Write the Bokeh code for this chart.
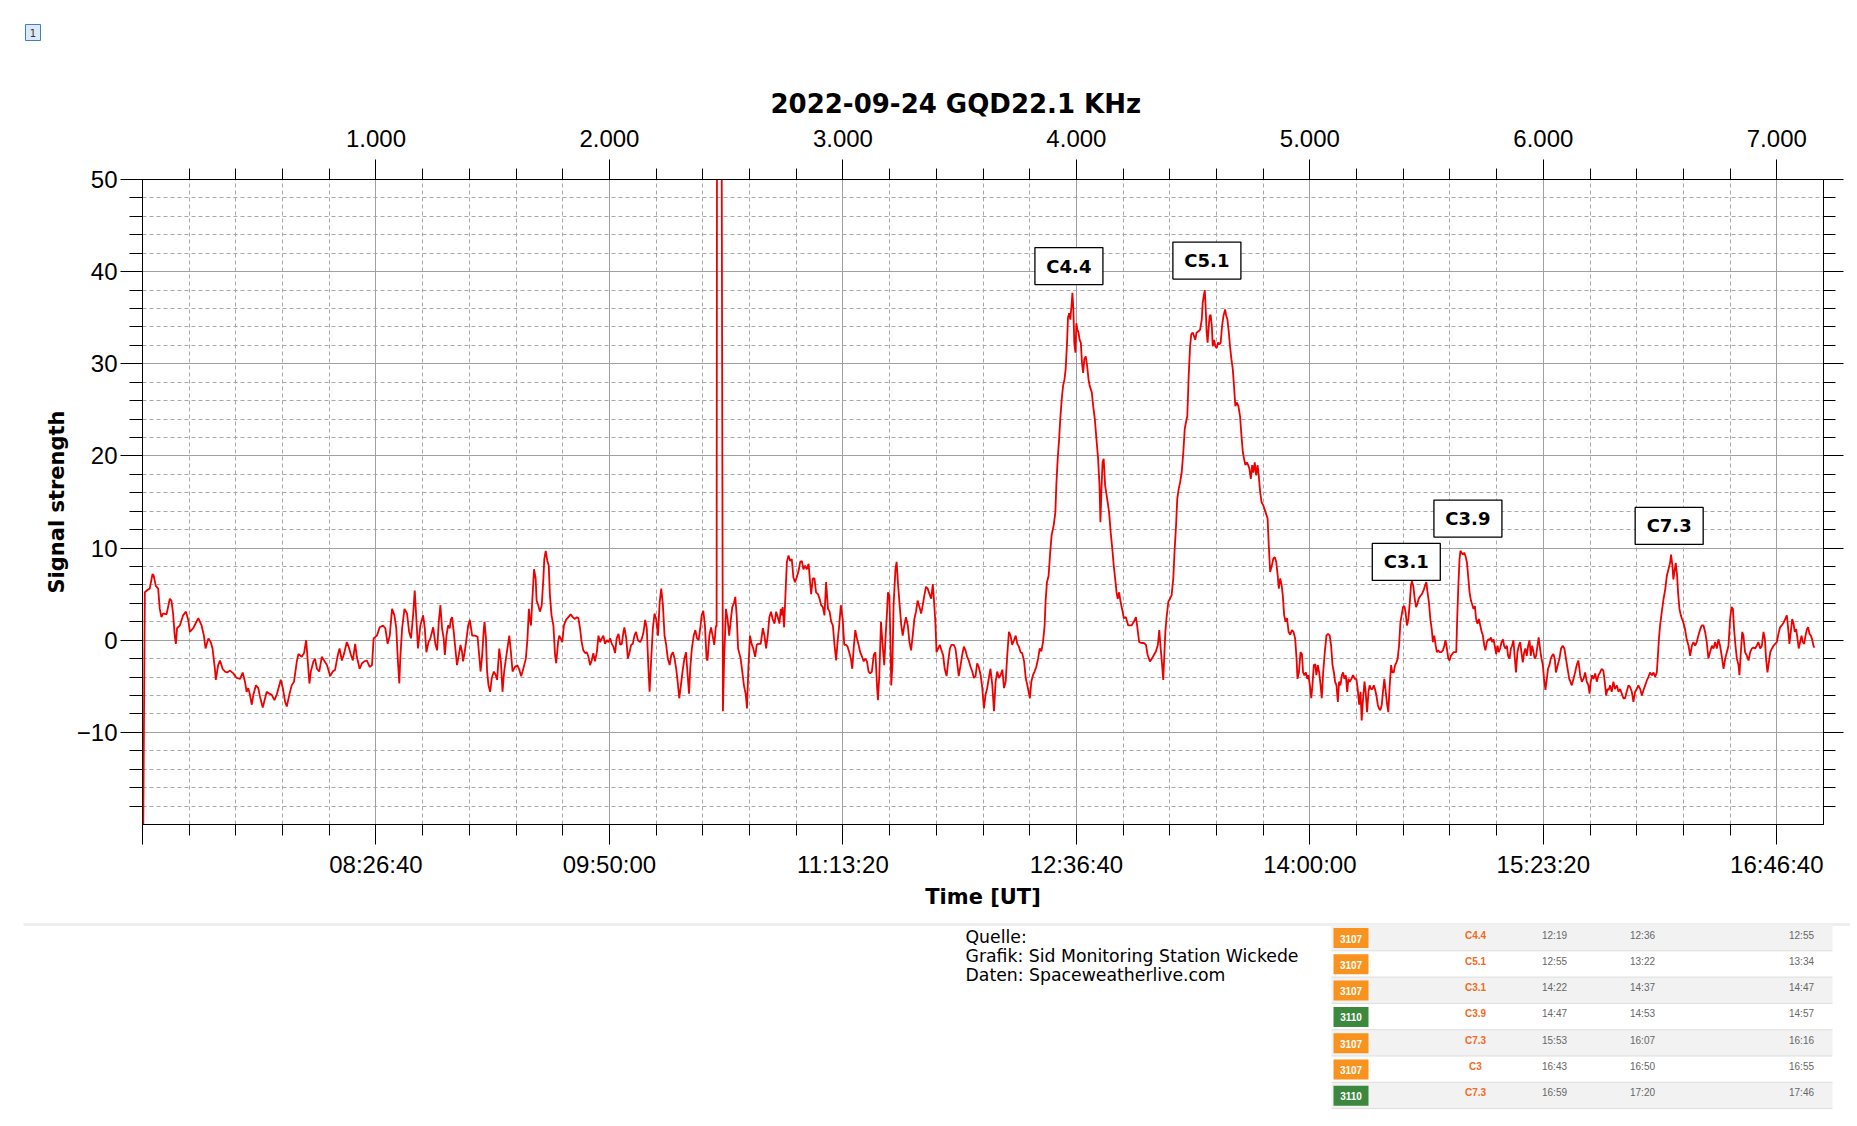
from bokeh.plotting import figure
from bokeh.models import Range1d, LinearAxis, FixedTicker, Grid
from bokeh.embed import file_html
from bokeh.resources import INLINE
from bokeh.core.properties import value

# ---------------- data (sample index, signal strength) ----------------
trace_a = [(2, -25), (10, 5.2), (24, 5.5), (31, 5.6), (43, 7.2), (48, 7.0), (57, 5.9), (67, 5.6), (74, 3.4), (81, 2.5),
           (88, 2.9), (103, 2.8), (117, 4.5), (124, 4.3), (131, 2.9), (138, 0.5), (143, -0.4), (148, 1.3), (160, 1.6),
           (174, 2.7), (186, 3.1), (196, 2.2), (203, 0.9), (217, 1.3), (239, 2.4), (253, 1.6), (263, 0.5), (270, -0.9),
           (282, 0.2), (292, -0.2), (300, -0.9), (310, -3.1), (314, -4.3), (324, -2.7), (332, -2.2), (343, -3.1),
           (353, -3.4), (363, -3.5), (375, -3.3), (389, -3.6), (403, -4.1), (418, -4.2), (429, -3.5), (439, -4.5),
           (446, -5.6), (453, -5.2), (460, -5.9), (468, -7.0), (475, -5.9), (486, -4.9), (496, -5.2), (503, -6.1),
           (515, -7.3), (525, -6.3), (532, -5.6), (543, -5.8), (553, -5.9), (565, -6.5), (575, -5.9), (586, -4.9),
           (592, -4.3), (601, -5.2), (611, -6.7), (618, -7.2), (629, -5.9), (639, -4.9), (649, -4.5), (661, -2.3),
           (668, -1.5), (682, -1.8), (692, -1.4), (701, 0.0), (708, -2.3), (715, -4.7), (721, -3.4), (732, -2.3),
           (739, -2.0), (747, -3.1), (757, -3.4), (768, -1.8), (778, -2.2), (790, -2.7), (804, -3.9), (815, -3.4),
           (825, -3.2), (835, -1.8), (844, -0.9), (854, -2.2), (864, -1.4), (875, -0.2), (883, -0.7), (893, -1.6),
           (901, -2.2), (911, -0.4), (918, -1.8), (930, -3.1), (940, -2.5), (950, -2.3), (961, -2.2), (973, -2.9),
           (983, -2.7), (990, 0.2), (1004, 0.5), (1016, 1.4), (1030, 1.6), (1040, 1.3), (1050, -0.4), (1059, 0.5),
           (1069, 3.4), (1079, 2.7), (1087, 1.3), (1094, -2.3), (1100, -4.7), (1104, -2.0), (1112, 1.3), (1122, 3.4),
           (1133, 2.9), (1142, 0.9), (1150, 0.2), (1159, 2.7), (1166, 5.4), (1173, 2.3), (1180, -0.9), (1190, 1.6),
           (1202, 2.7), (1209, 1.3), (1216, -1.3), (1225, -0.2), (1233, 0.2), (1245, 1.4), (1255, -0.5), (1262, -1.1),
           (1269, 2.0), (1276, 3.8)]

trace_b = [(1283, 1.3), (1290, 0.2), (1295, -1.6), (1302, 0.5), (1309, 1.6), (1316, 1.3), (1320, 2.2), (1326, 2.5),
           (1333, 0.9), (1340, -0.9), (1347, -2.7), (1355, -1.6), (1362, -0.5), (1369, -1.3), (1373, -2.3), (1380, -1.3),
           (1388, 0.2), (1395, 1.6), (1402, 2.2), (1412, 0.5), (1423, 0.5), (1435, 0.4), (1442, -1.6), (1448, -3.4),
           (1455, -1.6), (1462, 1.3), (1465, 2.0), (1471, 0.2), (1476, -3.4), (1482, -4.9), (1489, -5.6), (1496, -4.1),
           (1505, -3.4), (1513, -3.8), (1519, -4.3), (1528, -0.9), (1535, -2.3), (1542, -5.6), (1549, -3.4), (1559, -1.6),
           (1571, 0.5), (1578, -1.3), (1585, -3.4), (1595, -2.9), (1605, -2.7), (1614, -3.2), (1622, -3.9), (1631, -3.1),
           (1642, -2.0), (1649, 0.2), (1655, 3.4), (1659, 2.3), (1664, 1.6), (1669, 4.1), (1677, 7.7), (1684, 6.7),
           (1688, 4.3), (1695, 3.8), (1702, 3.1), (1710, 3.8), (1717, 6.7), (1721, 8.8), (1727, 9.7), (1734, 8.6),
           (1740, 8.1), (1745, 4.9), (1752, 2.7), (1760, 1.6), (1767, -1.6), (1772, -2.5), (1780, -0.2), (1785, 0.5),
           (1791, 0.2), (1798, -0.2), (1805, 1.6), (1814, 2.2), (1824, 2.5), (1834, 2.8), (1843, 2.5), (1853, 2.3),
           (1860, 2.5), (1867, 2.4), (1874, 1.3), (1881, -0.2), (1888, -1.1), (1896, -1.4), (1903, -1.3), (1910, -1.8),
           (1917, -2.7), (1924, -2.2), (1931, -1.4), (1938, -2.3), (1946, -1.3), (1953, 0.5), (1960, -0.2), (1967, 0.2),
           (1974, 0.5), (1981, -0.4), (1989, 0.0), (1996, -0.2), (2003, 0.2), (2010, -0.4), (2017, -0.7), (2024, -1.4),
           (2031, 0.2), (2039, 0.7), (2046, -0.5), (2053, -0.4), (2060, 0.9), (2064, 1.4), (2072, 0.2), (2079, -2.0),
           (2086, -1.3), (2093, -0.5), (2100, -0.4), (2107, 0.5), (2114, 0.9), (2122, 0.0), (2132, -0.2), (2139, 0.2),
           (2146, 0.9), (2153, 2.2), (2160, 1.3), (2167, -3.1), (2172, -5.6), (2179, -2.0), (2186, 1.3), (2193, 2.9),
           (2200, 2.3), (2208, 0.5), (2215, 4.1), (2222, 5.6), (2229, 3.8), (2236, 0.5), (2243, -0.5), (2250, -2.0),
           (2258, -2.7), (2265, -1.6), (2272, -1.3), (2279, -2.0), (2286, -3.1), (2293, -4.7), (2299, -6.3), (2306, -4.9),
           (2313, -3.4), (2321, -2.0), (2328, -1.3), (2335, -3.8), (2341, -5.8), (2346, -3.1), (2353, -0.9), (2361, 0.5),
           (2368, 1.1), (2375, 0.2), (2382, 0.0), (2389, 1.3)]

trace_c = [(2395, 2.7), (2402, 3.2), (2409, 1.6), (2416, -2.0), (2420, -2.2), (2428, 0.5), (2435, 1.4), (2442, 0.5),
           (2449, -0.5), (2456, 1.6), (2459, 1.5), (2462, 95), (2477, 95), (2486, -7.7), (2491, -2.3), (2495, 0.5),
           (2499, 3.4), (2506, 2.3), (2513, 0.5), (2519, 2.0), (2526, 3.6), (2533, 4.0), (2539, 4.7), (2545, 2.7),
           (2551, -0.9), (2556, -1.4), (2562, -2.0), (2569, -3.4), (2576, -4.9), (2584, -5.9), (2589, -7.4), (2595, -3.1),
           (2602, 0.5), (2609, -0.4), (2616, -0.9), (2624, -1.8), (2631, -0.5), (2638, -0.4), (2648, -0.4), (2657, 1.3),
           (2664, 0.5), (2671, -0.9), (2678, 0.5), (2685, 2.5), (2692, 3.1), (2699, 2.3), (2707, 1.8), (2714, 3.1),
           (2721, 2.5), (2728, 1.8), (2734, 3.4), (2738, 2.7), (2742, 3.6), (2748, 1.4), (2754, 5.0), (2760, 8.5),
           (2767, 9.2), (2774, 8.6), (2781, 8.8), (2788, 6.8), (2795, 6.3), (2802, 6.8), (2810, 7.5), (2817, 8.5),
           (2824, 8.6), (2831, 7.7), (2838, 8.1), (2845, 7.7), (2853, 8.3), (2860, 6.1), (2864, 5.0), (2871, 6.7),
           (2878, 6.7), (2885, 5.2), (2893, 5.0), (2900, 4.5), (2907, 3.8), (2914, 3.6), (2921, 2.7), (2928, 6.3),
           (2936, 3.4), (2943, 3.1), (2950, 2.0), (2957, 1.6), (2964, -0.5), (2971, -2.2), (2977, -0.2), (2984, 1.6),
           (2991, 3.8), (2999, 2.3), (3006, -0.5), (3013, -0.5), (3020, -0.7), (3027, -1.3), (3034, -2.0), (3040, -3.1),
           (3046, -0.9), (3053, 1.1), (3060, 0.2), (3067, -0.5), (3074, -1.3), (3082, -1.8), (3089, -2.3), (3096, -2.0),
           (3103, -2.3), (3110, -3.4), (3117, -3.6), (3124, -3.4), (3132, -1.6), (3139, -1.3), (3146, -4.9), (3150, -6.5),
           (3156, -3.8), (3163, 2.0), (3170, -0.5), (3177, -2.7), (3183, 0.5), (3189, 3.1), (3193, 5.2), (3199, 4.9),
           (3203, 0.5), (3207, -4.9), (3212, -2.7), (3217, 3.8), (3225, 7.7), (3230, 8.5), (3236, 6.1), (3243, 3.8),
           (3250, 1.6), (3256, 0.5), (3263, 1.6), (3270, 2.5), (3278, 1.6), (3285, -0.2), (3292, -1.1), (3299, 0.5),
           (3306, 2.3), (3313, 3.1), (3320, 4.3), (3328, 3.6), (3335, 2.9), (3342, 3.8), (3349, 4.9), (3356, 5.8),
           (3363, 5.6), (3371, 5.0), (3378, 4.5), (3385, 6.1), (3389, 4.7), (3396, 2.0), (3401, -1.3), (3408, -0.9),
           (3415, -0.5), (3422, -1.1), (3429, -1.6), (3436, -3.1), (3444, -3.9), (3451, -2.3), (3458, -0.9), (3465, -0.5),
           (3475, -0.5), (3482, -0.9), (3489, -2.3), (3496, -3.9), (3504, -2.7), (3511, -1.6), (3518, -0.7), (3525, -1.1),
           (3532, -1.8), (3539, -2.2), (3547, -2.9), (3554, -3.4), (3561, -4.1), (3568, -3.9), (3575, -2.5), (3582, -2.9),
           (3590, -3.8), (3597, -5.2), (3604, -7.4), (3611, -5.9), (3618, -5.2), (3625, -4.1), (3632, -3.1), (3640, -4.9),
           (3647, -7.7), (3654, -4.5), (3661, -3.4), (3668, -4.1), (3675, -3.8), (3683, -3.2), (3690, -5.2), (3697, -4.5),
           (3704, -1.6), (3711, 0.9), (3718, 0.5), (3725, -0.5), (3733, 0.0), (3740, 0.5), (3747, -0.4), (3754, -0.7),
           (3761, -1.3), (3768, -1.4), (3776, -2.3), (3783, -4.1), (3790, -4.9), (3797, -5.8), (3801, -6.3)]

trace_d = [(3807, -4.5), (3814, -3.8), (3821, -3.4), (3828, -2.9), (3836, -2.0), (3843, -0.9), (3850, -1.2), (3857, -0.2),
           (3864, 1.6), (3868, 4.2), (3874, 6.3), (3881, 7.0), (3888, 9.6), (3894, 11.4), (3903, 12.5), (3910, 13.9),
           (3914, 16.8), (3920, 19.7), (3926, 21.8), (3931, 24.0), (3937, 26.1), (3943, 27.6), (3949, 28.3), (3954, 29.4),
           (3960, 32.3), (3964, 35.0), (3969, 35.5), (3974, 34.8), (3980, 36.6), (3983, 37.7), (3987, 35.9), (3991, 32.3),
           (3996, 31.2), (4000, 34.4), (4004, 33.7), (4009, 33.4), (4014, 32.6), (4019, 32.3), (4024, 30.1), (4029, 29.0),
           (4034, 30.5), (4040, 30.8), (4046, 29.8), (4052, 28.3), (4057, 27.6), (4066, 26.9), (4072, 25.4), (4079, 24.0),
           (4086, 21.8), (4093, 19.7), (4099, 16.8), (4103, 12.8), (4107, 16.1), (4112, 19.3), (4117, 19.7), (4123, 16.8),
           (4132, 15.3), (4140, 13.9), (4147, 11.7), (4155, 9.6), (4160, 8.1), (4166, 6.7), (4172, 5.2), (4177, 4.5),
           (4183, 5.2), (4189, 4.2), (4198, 3.1), (4203, 2.4), (4212, 2.5), (4222, 1.6), (4236, 1.6), (4246, 2.0),
           (4255, 2.5), (4260, 1.6), (4269, -0.2), (4279, -0.3), (4289, -0.3), (4298, -0.5), (4305, -1.6), (4315, -2.3),
           (4323, -2.0), (4332, -1.6), (4341, -1.2), (4349, -0.5), (4355, 1.1), (4361, -0.9), (4366, -2.3), (4372, -4.3),
           (4376, -2.0), (4381, 0.9), (4386, 2.4), (4394, 4.2), (4401, 4.5), (4408, 4.9), (4415, 6.7), (4421, 9.9),
           (4427, 12.5), (4432, 15.3), (4438, 16.4), (4444, 17.1), (4451, 18.2), (4458, 20.4), (4464, 22.9), (4469, 23.6),
           (4475, 24.3), (4481, 28.7), (4487, 31.9), (4492, 33.2), (4498, 33.4), (4504, 33.0), (4509, 32.6), (4515, 33.4),
           (4522, 33.5), (4530, 33.7), (4537, 34.8), (4541, 36.6), (4545, 37.3), (4550, 38.0), (4554, 35.9), (4558, 33.4),
           (4562, 32.3), (4567, 34.1), (4571, 35.2), (4575, 35.3), (4580, 34.1), (4584, 31.9), (4590, 32.6), (4595, 31.9),
           (4601, 31.7), (4607, 32.3), (4612, 32.1), (4618, 32.3), (4624, 34.1), (4630, 35.2), (4637, 35.9), (4641, 35.3),
           (4647, 34.8), (4653, 33.4), (4658, 31.9), (4664, 30.5), (4670, 29.4), (4675, 27.6), (4681, 25.4), (4687, 25.8),
           (4694, 25.4), (4701, 24.3), (4707, 22.2), (4713, 20.4), (4718, 19.7), (4724, 19.0), (4730, 19.3), (4736, 19.0),
           (4741, 18.6), (4747, 17.5), (4753, 19.0), (4758, 18.2), (4764, 19.3), (4770, 17.9), (4776, 19.0), (4781, 17.9),
           (4787, 16.1), (4793, 15.0), (4801, 14.6), (4810, 13.9), (4819, 13.2), (4824, 10.3), (4830, 7.4), (4837, 8.1),
           (4844, 8.9), (4850, 9.0), (4856, 8.5), (4862, 7.1), (4867, 5.6), (4873, 6.7), (4879, 6.0), (4884, 4.9),
           (4890, 2.7), (4896, 2.0), (4902, 2.4), (4909, 0.9), (4916, 0.6), (4923, 1.1), (4930, 0.9), (4937, 0.2)]

trace_e = [(4943, -2.0), (4947, -4.2), (4953, -3.5), (4960, -1.3), (4966, -1.5), (4971, -3.5), (4977, -3.8), (4983, -3.5),
           (4989, -4.2), (4994, -3.8), (5000, -4.9), (5006, -6.3), (5011, -4.9), (5017, -2.7), (5023, -2.6), (5028, -3.8),
           (5034, -2.7), (5040, -3.5), (5046, -4.9), (5051, -6.3), (5057, -3.5), (5064, -1.3), (5071, 0.5), (5078, 0.7),
           (5085, 0.5), (5091, -0.6), (5097, -2.7), (5103, -3.5), (5108, -4.5), (5114, -4.9), (5120, -6.7), (5125, -4.5),
           (5131, -4.9), (5137, -3.8), (5142, -3.5), (5148, -4.2), (5154, -3.8), (5160, -5.6), (5165, -4.2), (5171, -4.5),
           (5178, -4.2), (5185, -3.8), (5192, -4.2), (5199, -4.2), (5205, -5.3), (5211, -7.0), (5217, -5.6), (5222, -8.7),
           (5228, -6.3), (5234, -4.5), (5239, -5.6), (5245, -7.8), (5251, -5.6), (5256, -4.9), (5262, -5.3), (5268, -5.3),
           (5274, -4.9), (5279, -5.3), (5285, -6.0), (5291, -7.0), (5296, -7.4), (5302, -7.6), (5308, -7.0), (5313, -5.6),
           (5319, -4.2), (5325, -5.6), (5331, -7.0), (5336, -7.8), (5342, -4.9), (5348, -2.7), (5353, -3.5), (5359, -3.5),
           (5365, -2.7), (5371, -2.4), (5376, -2.0), (5382, -0.6), (5388, 2.0), (5393, 2.7), (5399, 3.6), (5405, 3.7),
           (5410, 3.0), (5416, 1.6), (5422, 2.3), (5428, 4.1), (5433, 5.9), (5437, 6.4), (5443, 5.9), (5449, 4.5),
           (5455, 3.6), (5460, 3.9), (5466, 4.5), (5473, 4.8), (5480, 5.0), (5487, 5.4), (5493, 5.9), (5499, 6.3),
           (5504, 5.2), (5510, 4.1), (5516, 2.3), (5522, 1.2), (5527, -0.2), (5533, 0.5), (5539, -0.6), (5544, -1.3),
           (5550, -1.1), (5556, -1.3), (5563, -1.3), (5570, -1.1), (5576, -0.6), (5581, 0.0), (5587, -0.9), (5593, -2.0),
           (5598, -2.2), (5604, -1.7), (5610, -1.5), (5616, -1.3), (5621, -1.3), (5627, -1.3), (5631, 2.3), (5636, 5.9),
           (5641, 8.8), (5645, 9.7), (5650, 9.5), (5655, 9.3), (5661, 9.5), (5667, 9.1), (5673, 8.4), (5678, 7.0),
           (5684, 5.2), (5690, 4.3), (5695, 3.9), (5701, 3.4), (5707, 3.7), (5712, 2.3), (5718, 1.8), (5724, 2.3),
           (5730, 1.6), (5735, 1.0), (5741, 0.5), (5747, -0.6), (5752, -1.1), (5758, -0.2), (5764, 0.1), (5770, 0.0),
           (5775, 0.3), (5781, -0.2), (5787, 0.1), (5792, -0.6), (5798, -1.5), (5804, -0.6), (5809, -1.3), (5815, -0.9),
           (5821, -0.2), (5827, 0.1), (5832, -0.6), (5838, -0.9), (5844, -0.6), (5849, -1.7), (5855, -2.0), (5861, -0.9),
           (5866, -0.6), (5872, 0.0), (5878, -2.0), (5883, -3.5), (5889, -1.3), (5895, -0.6), (5901, -0.2), (5906, -1.3),
           (5912, -2.4), (5918, -1.3), (5923, -0.9), (5929, -1.7), (5935, -0.6), (5941, 0.0), (5946, -1.7), (5952, -0.6),
           (5958, -1.3), (5963, -2.0), (5969, -1.7), (5975, -0.6), (5980, 0.3), (5986, -0.9), (5992, -2.0), (5998, -2.7),
           (6003, -4.2), (6009, -5.4), (6015, -4.2), (6020, -3.1), (6026, -2.7), (6032, -2.0), (6037, -1.7), (6043, -1.5),
           (6049, -2.0), (6054, -3.5), (6062, -2.7), (6069, -2.0), (6076, -0.9), (6083, -0.6), (6090, -0.9), (6097, -2.0),
           (6104, -3.1), (6111, -4.2)]

trace_f = [(6122, -4.9), (6129, -4.2), (6136, -3.5), (6143, -2.7), (6150, -2.2), (6158, -3.8), (6165, -4.5), (6172, -4.2),
           (6179, -3.5), (6186, -4.5), (6193, -4.9), (6198, -5.8), (6203, -4.5), (6209, -3.8), (6215, -4.2), (6222, -3.6),
           (6229, -4.5), (6236, -3.8), (6243, -3.5), (6250, -3.1), (6257, -3.3), (6263, -4.5), (6269, -6.0), (6275, -5.3),
           (6280, -5.4), (6286, -4.9), (6293, -5.6), (6300, -4.5), (6307, -5.3), (6315, -4.9), (6322, -5.6), (6329, -5.3),
           (6336, -5.8), (6343, -6.3), (6350, -6.3), (6357, -5.6), (6365, -4.9), (6372, -5.1), (6379, -5.6), (6386, -6.7),
           (6393, -5.6), (6400, -5.3), (6407, -4.9), (6415, -5.3), (6422, -6.0), (6429, -5.4), (6436, -4.9), (6443, -4.4),
           (6450, -4.0), (6457, -3.5), (6465, -3.8), (6472, -3.5), (6479, -4.0), (6486, -3.5), (6490, -2.0), (6495, 0.1),
           (6500, 1.6), (6507, 3.0), (6515, 4.5), (6522, 5.5), (6529, 7.0), (6536, 7.7), (6543, 8.4), (6547, 9.3),
           (6553, 8.1), (6557, 6.6), (6563, 7.7), (6567, 8.4), (6573, 7.0), (6577, 5.2), (6583, 3.4), (6589, 2.7),
           (6594, 2.3), (6600, 1.9), (6607, 1.2), (6614, 0.1), (6622, -0.6), (6629, -1.7), (6636, -0.6), (6643, -0.2),
           (6650, -0.6), (6657, -0.2), (6664, 0.5), (6672, 1.2), (6679, 1.6), (6686, 1.6), (6693, 0.9), (6700, -0.2),
           (6707, -2.0), (6714, -1.3), (6722, -0.6), (6729, -0.9), (6736, -0.2), (6743, -0.9), (6750, 0.1), (6757, -0.6),
           (6764, -1.7), (6772, -3.1), (6779, -2.0), (6786, -1.3), (6793, -0.6), (6800, 2.3), (6806, 3.6), (6812, 3.4),
           (6817, 1.2), (6823, -0.6), (6829, -2.0), (6836, -2.7), (6840, -3.8), (6846, -1.3), (6852, 0.9), (6857, 0.5),
           (6864, -1.3), (6872, -1.7), (6879, -2.2), (6886, -1.3), (6893, -0.9), (6900, -0.8), (6907, -0.9), (6914, -0.6),
           (6921, -0.2), (6929, -0.9), (6936, -0.6), (6943, 0.9), (6949, 0.1), (6954, -2.0), (6960, -3.5), (6966, -2.4),
           (6972, -1.3), (6979, -0.9), (6986, -0.6), (6993, -0.4), (7000, -0.2), (7007, 0.7), (7014, 1.4), (7021, 1.6),
           (7029, 1.9), (7036, 2.3), (7043, 2.7), (7049, 1.2), (7054, -0.4), (7060, 0.9), (7066, 2.3), (7071, 1.9),
           (7077, 0.9), (7083, 1.2), (7089, 0.1), (7094, -0.9), (7100, -0.2), (7106, 0.5), (7111, -0.2), (7117, -0.4),
           (7123, 0.5), (7129, 1.2), (7134, 1.4), (7140, 0.7), (7146, 0.5), (7151, 0.1), (7157, -0.6), (7161, -0.8)]

title_text = "2022-09-24 GQD22.1 KHz"
x_label = "Time [UT]"
y_label = "Signal strength"
sample_ticks = [1000, 2000, 3000, 4000, 5000, 6000, 7000]
sample_tick_labels = ["1.000", "2.000", "3.000", "4.000", "5.000", "6.000", "7.000"]
time_tick_labels = ["08:26:40", "09:50:00", "11:13:20", "12:36:40", "14:00:00", "15:23:20", "16:46:40"]
y_ticks = [-10, 0, 10, 20, 30, 40, 50]
y_tick_labels = ["\u221210", "0", "10", "20", "30", "40", "50"]

flare_names = ["C4.4", "C5.1", "C3.1", "C3.9", "C7.3"]
flare_x = [3968, 4559, 5413, 5677, 6539]
flare_y = [40.6, 41.2, 8.5, 13.2, 12.4]

tbl_region = ["3107", "3107", "3107", "3110", "3107", "3107", "3110"]
tbl_class = ["C4.4", "C5.1", "C3.1", "C3.9", "C7.3", "C3", "C7.3"]
tbl_start = ["12:19", "12:55", "14:22", "14:47", "15:53", "16:43", "16:59"]
tbl_peak = ["12:36", "13:22", "14:37", "14:53", "16:07", "16:50", "17:20"]
tbl_end = ["12:55", "13:34", "14:47", "14:57", "16:16", "16:55", "17:46"]

source_lines = ["Quelle:", "Grafik: Sid Monitoring Station Wickede", "Daten: Spaceweatherlive.com"]
page_number = "1"

# ---------------- layout constants ----------------
W = 1850
TOP_H = 60
CHART_H = 861
BOT_H = 195
TICK_FONT = "Liberation Sans"
BOLD_FONT = "DejaVu Sans"

segments = [trace_a, trace_b, trace_c, trace_d, trace_e, trace_f]
samples = [pt[0] for seg in segments for pt in seg]
signal = [pt[1] for seg in segments for pt in seg]

# ---------------- top strip (page marker) ----------------
top = figure(width=W, height=TOP_H, x_range=Range1d(0, W), y_range=Range1d(TOP_H, 0),
             x_axis_type=None, y_axis_type=None, toolbar_location=None,
             output_backend="svg", min_border=0)
top.outline_line_color = None
top.rect(x=[32.5], y=[32], width=[15], height=[16], fill_color="#dce9f8",
         line_color="#3f7fc4", line_width=1)
top.text(x=[32.5], y=[32.5], text=[page_number], text_align="center", text_baseline="middle",
         text_font=value("DejaVu Sans"), text_font_size="10px", text_color="#333333")

# ---------------- chart ----------------
p = figure(width=W, height=CHART_H, x_range=Range1d(0, 7200), y_range=Range1d(-20, 50),
           x_axis_type=None, y_axis_type=None, toolbar_location=None, output_backend="svg",
           min_border_left=142, min_border_right=W - 1823, min_border_top=119, min_border_bottom=97)
p.outline_line_color = "black"
p.outline_line_width = 1
p.background_fill_color = "white"
p.border_fill_color = "white"

p.title.text = title_text
p.title.align = "left"
p.title.offset = 628
p.title.text_font = BOLD_FONT
p.title.text_font_style = "bold"
p.title.text_font_size = "26px"
p.title.text_color = "black"
p.title.standoff = 15

minor_x = [t for t in range(200, 7200, 200) if t % 1000]
minor_y = [t for t in range(-18, 50, 2) if t % 10]

p.add_layout(Grid(dimension=0, ticker=FixedTicker(ticks=sample_ticks, minor_ticks=minor_x),
                  grid_line_color="#a0a0a0", grid_line_width=1,
                  minor_grid_line_color="#a8a8a8", minor_grid_line_dash="4 3", minor_grid_line_width=1))
p.add_layout(Grid(dimension=1, ticker=FixedTicker(ticks=y_ticks, minor_ticks=minor_y),
                  grid_line_color="#a0a0a0", grid_line_width=1,
                  minor_grid_line_color="#a8a8a8", minor_grid_line_dash="4 3", minor_grid_line_width=1))


def make_axis(ticks, minor, labels, major_out, minor_out, standoff, label=None, label_standoff=8):
    ax = LinearAxis(ticker=FixedTicker(ticks=ticks, minor_ticks=minor),
                    major_label_overrides={t: l for t, l in zip(ticks, labels)})
    ax.major_tick_in = 0
    ax.minor_tick_in = 0
    ax.major_tick_out = major_out
    ax.minor_tick_out = minor_out
    ax.axis_line_color = "black"
    ax.major_tick_line_color = "black"
    ax.minor_tick_line_color = "black"
    ax.major_label_text_font = TICK_FONT
    ax.major_label_text_font_size = "24px"
    ax.major_label_text_color = "black"
    ax.major_label_standoff = standoff
    if label:
        ax.axis_label = label
        ax.axis_label_text_font = BOLD_FONT
        ax.axis_label_text_font_style = "bold"
        ax.axis_label_text_font_size = "21px"
        ax.axis_label_text_color = "black"
        ax.axis_label_standoff = label_standoff
    return ax


top_axis = make_axis(sample_ticks, minor_x, sample_tick_labels, 20, 11, 13)
bottom_axis = make_axis([0] + sample_ticks, minor_x, [""] + time_tick_labels, 20, 11, 6,
                        label=x_label, label_standoff=4)
left_axis = make_axis(y_ticks, minor_y, y_tick_labels, 22, 13, 3, label=y_label, label_standoff=5)
right_axis = make_axis(y_ticks, minor_y, ["" for _ in y_ticks], 20, 12, 0)

p.add_layout(top_axis, "above")
p.add_layout(bottom_axis, "below")
p.add_layout(left_axis, "left")
p.add_layout(right_axis, "right")

p.line(x=samples, y=signal, line_color="#ee0000", line_width=1.8)

p.rect(x=flare_x, y=flare_y, width=68, height=37, width_units="screen", height_units="screen",
       fill_color="white", line_color="black", line_width=1.3)
p.text(x=flare_x, y=flare_y, text=flare_names, text_align="center", text_baseline="middle",
       text_font=value(BOLD_FONT), text_font_style="bold", text_font_size="18px", text_color="black")

# ---------------- bottom strip (source + flare table) ----------------
bot = figure(width=W, height=BOT_H, x_range=Range1d(0, W), y_range=Range1d(BOT_H, 0),
             x_axis_type=None, y_axis_type=None, toolbar_location=None,
             output_backend="svg", min_border=0)
bot.outline_line_color = None

ROW_TOP = 3
ROW_H = 26.3
TBL_L, TBL_R = 1331, 1832
n = len(tbl_region)
row_tops = [ROW_TOP + i * ROW_H for i in range(n)]

bot.quad(left=[23], right=[W], top=[1.5], bottom=[4.5], fill_color="#eeeeee", line_color=None)
gray_rows = [t for i, t in enumerate(row_tops) if i % 2 == 0]
bot.quad(left=[TBL_L] * len(gray_rows), right=[TBL_R] * len(gray_rows), top=gray_rows,
         bottom=[t + ROW_H for t in gray_rows], fill_color="#f2f2f2", line_color=None)
bot.segment(x0=[TBL_L] * n, x1=[TBL_R] * n, y0=[t + ROW_H for t in row_tops],
            y1=[t + ROW_H for t in row_tops], line_color="#dddddd", line_width=1)

badge_colors = ["#f7931e" if r == "3107" else "#3d883f" for r in tbl_region]
bot.rect(x=[1350.5] * n, y=[t + 13.5 for t in row_tops], width=35, height=20,
         fill_color=badge_colors, line_color=None)
bot.text(x=[1350.5] * n, y=[t + 14 for t in row_tops], text=tbl_region, text_align="center",
         text_baseline="middle", text_font=value(TICK_FONT), text_font_style="bold",
         text_font_size="10px", text_color="white")
bot.text(x=[1475] * n, y=[t + 10.5 for t in row_tops], text=tbl_class, text_align="center",
         text_baseline="middle", text_font=value(TICK_FONT), text_font_style="bold",
         text_font_size="10px", text_color="#f26a21")
for col_x, col in ((1554, tbl_start), (1642, tbl_peak), (1801, tbl_end)):
    bot.text(x=[col_x] * n, y=[t + 10.5 for t in row_tops], text=col, text_align="center",
             text_baseline="middle", text_font=value(TICK_FONT), text_font_size="10px",
             text_color="#666666")

bot.text(x=[965] * len(source_lines), y=[15, 34, 53], text=source_lines, text_align="left",
         text_baseline="middle", text_font=value("DejaVu Sans"), text_font_size="17.3px",
         text_color="black")

open("out.html", "w").write(file_html([top, p, bot], INLINE))
